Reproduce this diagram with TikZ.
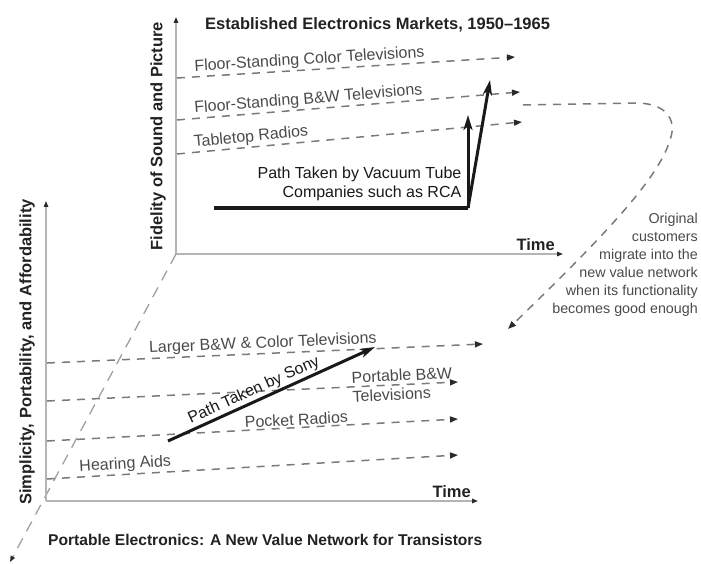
\documentclass[tikz,border=0pt]{standalone}
\usepackage{fontspec}
\setmainfont{Liberation Sans}
\usetikzlibrary{arrows.meta}
\definecolor{axisgray}{HTML}{B4B4B4}
\definecolor{dashgray}{HTML}{7A7A7A}
\definecolor{diaggray}{HTML}{A0A0A0}
\definecolor{labelgray}{HTML}{4A4A4A}
\definecolor{titleink}{HTML}{222222}
\definecolor{tipink}{HTML}{2A2A2A}
\begin{document}
\begin{tikzpicture}[x=1pt,y=-1pt,
  axisline/.style={draw=axisgray, line width=1.4pt, -{Triangle[length=6pt,width=4.5pt,color=tipink]}},
  market/.style={draw=dashgray, line width=1.5pt, dash pattern=on 8pt off 7pt,
    -{Triangle[length=8pt,width=6pt,color=tipink]}},
  diagline/.style={draw=diaggray, line width=1.3pt, dash pattern=on 11pt off 8pt},
  migrate/.style={draw=dashgray, line width=1.5pt, dash pattern=on 8pt off 7pt,
    -{Triangle[length=8pt,width=6pt,color=tipink]}},
  pathline/.style={draw=black!90, line width=3pt},
  patharrow/.style={pathline, -{Stealth[length=15pt,width=9pt,inset=4pt]}},
  marketlabel/.style={font=\fontsize{16}{19}\selectfont, text=labelgray, inner sep=1.5pt},
  axistitle/.style={font=\fontsize{16.5}{19}\selectfont\bfseries, text=titleink, inner sep=0pt},
  pathlabel/.style={font=\fontsize{16}{19}\selectfont, text=black!90, inner sep=1.5pt},
  notelabel/.style={font=\fontsize{14.3}{18}\selectfont, text=labelgray, inner sep=0pt, align=right}
]
\useasboundingbox (0,0) rectangle (701,564);

% ---------- upper plane: established markets ----------
\coordinate (uo) at (176,254);
\coordinate (uy) at (176,17);
\coordinate (ux) at (563,254);
\draw[axisline] (uo) -- (uy);
\draw[axisline] (uo) -- (ux);

\node[axistitle, anchor=west] (utitle) at (205,25) {Established Electronics Markets, 1950--1965};
\node[axistitle, rotate=90] (uaxis) at (158,136) {Fidelity of Sound and Picture};
\node[axistitle, anchor=south east] (utime) at (555,251) {Time};

\coordinate (c1a) at (177,78);  \coordinate (c1b) at (515,57);
\coordinate (c2a) at (177,120); \coordinate (c2b) at (520,92);
\coordinate (c3a) at (177,154); \coordinate (c3b) at (522,122);
\draw[market] (c1a) -- (c1b) node[marketlabel, pos=0.047, sloped, anchor=south west] (lcolor) {Floor-Standing Color Televisions};
\draw[market] (c2a) -- (c2b) node[marketlabel, pos=0.047, sloped, anchor=south west] (lbw) {Floor-Standing B\&W Televisions};
\draw[market] (c3a) -- (c3b) node[marketlabel, pos=0.045, sloped, anchor=south west] (ltable) {Tabletop Radios};

% vacuum tube companies
\coordinate (v0) at (214,208);
\coordinate (v1) at (468,208);
\coordinate (v2) at (468,115);
\coordinate (v3) at (490,80);
\draw[pathline] (v0) -- (v1);
\draw[patharrow] (v1) -- (v2);
\draw[patharrow] (v1) -- (v3);
\node[pathlabel, align=right, anchor=east] (rca) at (463,184) {Path Taken by Vacuum Tube\\Companies such as RCA};

% ---------- link between the two planes ----------
\coordinate (dend) at (10,562);
\draw[diagline, -{Triangle[length=6pt,width=4.5pt,color=tipink]}] (uo) -- (dend);

% customers migrating down
\coordinate (m0) at (523,105);
\coordinate (m1) at (636,103);
\coordinate (m2) at (670,140);
\coordinate (m3) at (508,329);
\draw[migrate] (m0) -- (m1) .. controls (664,103) and (678,118) .. (m2)
  .. controls (658,180) and (600,240) .. (m3);
\node[notelabel, anchor=north east] (note) at (698,213)
  {Original\\customers\\migrate into the\\new value network\\when its functionality\\becomes good enough};

% ---------- lower plane: portable electronics ----------
\coordinate (lo) at (46,501);
\coordinate (ly) at (46,201);
\coordinate (lx) at (478,501);
\draw[axisline] (lo) -- (ly);
\draw[axisline] (lo) -- (lx);

\node[axistitle, rotate=90] (laxis) at (27,352) {Simplicity, Portability, and Affordability};
\node[axistitle, anchor=south east] (ltime) at (471,498) {Time};
\node[axistitle, font=\fontsize{15.6}{19}\selectfont\bfseries, anchor=west] (ltitle) at (48,540) {Portable Electronics: A New Value Network for Transistors};

\coordinate (pAa) at (47,363); \coordinate (pAb) at (483,344);
\coordinate (pBa) at (47,401); \coordinate (pBb) at (458,382);
\coordinate (pCa) at (47,441); \coordinate (pCb) at (458,419);
\coordinate (pDa) at (47,479); \coordinate (pDb) at (458,455);
\draw[market] (pAa) -- (pAb) node[marketlabel, pos=0.23, sloped, anchor=south west] (llarge) {Larger B\&W \& Color Televisions};
\draw[market] (pBa) -- (pBb) node[marketlabel, pos=0.737, sloped, anchor=west, align=left] (lport) {Portable B\&W\\Televisions};
\draw[market] (pCa) -- (pCb) node[marketlabel, pos=0.477, sloped, anchor=south west] (lpocket) {Pocket Radios};
\draw[market] (pDa) -- (pDb) node[marketlabel, pos=0.075, sloped, anchor=south west] (lhear) {Hearing Aids};

% Sony's path
\coordinate (s0) at (168,441);
\coordinate (s1) at (375,347);
\draw[patharrow] (s0) -- (s1) node[pathlabel, pos=0.11, sloped, anchor=south west] (lsony) {Path Taken by Sony};
\end{tikzpicture}
\end{document}
